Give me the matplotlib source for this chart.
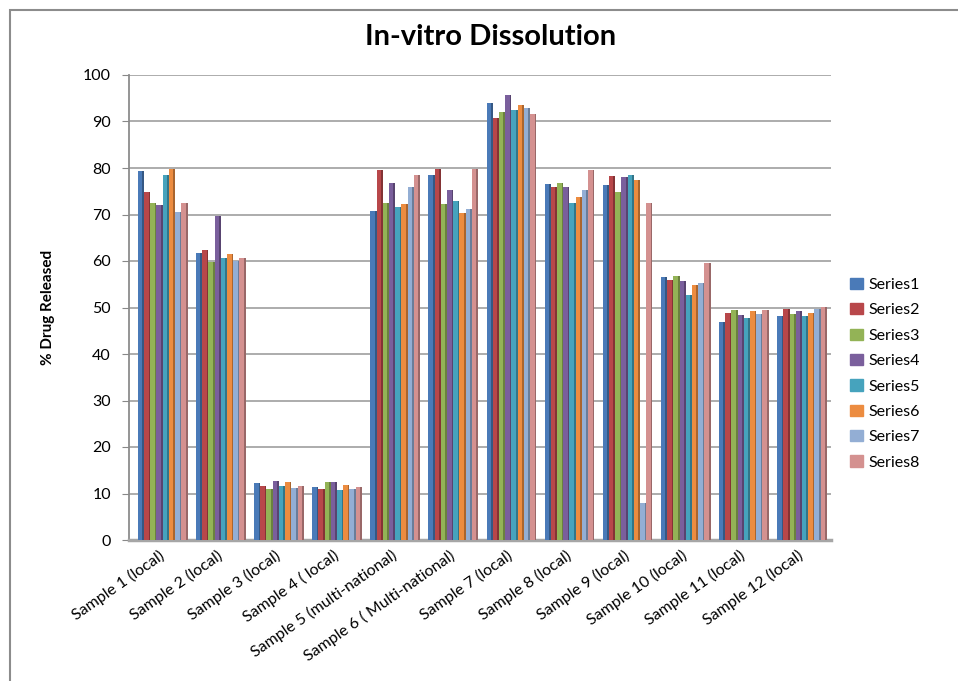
import numpy as np
import matplotlib
matplotlib.use('Agg')
import matplotlib.pyplot as plt
from matplotlib.patches import Rectangle
from matplotlib.colors import to_rgb

plt.rcParams['font.family'] = ['Lato', 'DejaVu Sans']

# dissolution results per sample (% drug released), one list per series
samples = ['Sample 1 (local)', 'Sample 2 (local)', 'Sample 3 (local)', 'Sample 4 ( local)',
           'Sample 5 (multi-national)', 'Sample 6 ( Multi-national)', 'Sample 7 (local)',
           'Sample 8 (local)', 'Sample 9 (local)', 'Sample 10 (local)', 'Sample 11 (local)',
           'Sample 12 (local)']
series1 = [79.4, 61.8, 12.2, 11.4, 70.8, 78.5, 94.0, 76.6, 76.3, 56.6, 46.8, 48.2]
series2 = [74.8, 62.3, 11.6, 10.9, 79.5, 79.8, 90.7, 76.0, 78.3, 56.0, 48.8, 49.7]
series3 = [72.4, 59.8, 10.9, 12.5, 72.4, 72.3, 92.0, 76.7, 74.8, 56.8, 49.5, 48.6]
series4 = [72.0, 69.6, 12.6, 12.4, 76.8, 75.3, 95.8, 75.9, 78.1, 55.8, 48.4, 49.3]
series5 = [78.6, 60.7, 11.6, 10.8, 71.6, 72.8, 92.5, 72.5, 78.6, 52.6, 47.7, 48.2]
series6 = [79.7, 61.6, 12.5, 11.9, 72.2, 70.3, 93.5, 73.8, 77.5, 54.8, 49.2, 48.8]
series7 = [70.6, 59.9, 11.1, 10.9, 75.9, 71.2, 92.8, 75.2, 8.0, 55.3, 48.5, 49.6]
series8 = [72.4, 60.6, 11.6, 11.3, 78.6, 79.8, 91.6, 79.5, 72.5, 59.6, 49.5, 50.2]
series_names = ['Series1', 'Series2', 'Series3', 'Series4', 'Series5', 'Series6', 'Series7', 'Series8']
colors = ['#4A7AB8', '#B8474A', '#93B356', '#7A5F9C', '#46A3BD', '#EC8C40', '#93AED4', '#D49190']

all_series = [series1, series2, series3, series4, series5, series6, series7, series8]

fig = plt.figure(figsize=(9.58, 6.81), dpi=100)
ax = fig.add_axes([129/958, 141/681, (831-129)/958, (540-75)/681])

x = np.arange(len(samples))
w = 0.107
for i, (vals, c, name) in enumerate(zip(all_series, colors, series_names)):
    pos = x + (i - 3.5) * w
    ax.bar(pos, vals, width=w, color=c, label=name, zorder=3)
    # darker side face for the pseudo-3D look
    dark = tuple(v * 0.72 for v in to_rgb(c))
    ax.bar(pos + w * 0.36, vals, width=w * 0.28, color=dark, zorder=3)

ax.set_xlim(-0.58, 11.5)
ax.set_ylim(0, 100)
ax.set_yticks(np.arange(0, 101, 10))
ax.yaxis.grid(True, color='#A6A6A6', lw=1.3, zorder=0)
ax.set_axisbelow(True)
ax.tick_params(axis='y', labelsize=11.5, length=5, color='#888888', pad=8)
ax.tick_params(axis='x', length=0, pad=4)
ax.set_xticks(x)
ax.set_xticklabels(samples, rotation=35, ha='right', va='center',
                   rotation_mode='anchor', fontsize=11.5)
for lab in ax.get_xticklabels():
    lab.set_y(-0.018)
for s in ['top', 'right']:
    ax.spines[s].set_visible(False)
ax.spines['left'].set_color('#8C8C8C')
ax.spines['left'].set_linewidth(1.3)
ax.spines['bottom'].set_color('#A6A6A6')
ax.spines['bottom'].set_linewidth(2.5)

ax.set_ylabel('% Drug Released', fontsize=11, fontweight='bold', labelpad=20)
fig.text(0.512, 0.945, 'In-vitro Dissolution', ha='center', va='center',
         fontsize=21, fontweight='bold')

handles = [Rectangle((0, 0), 1, 1, color=c) for c in colors]
fig.legend(handles, series_names, loc='upper left', bbox_to_anchor=(0.872, 0.613),
           frameon=False, fontsize=11.5, handlelength=0.8, handleheight=0.7,
           handletextpad=0.4, labelspacing=0.7)

# outer chart border
fig.add_artist(Rectangle((10/958, -0.1), 1.2, (681-10)/681 + 0.1,
                         transform=fig.transFigure, fill=False,
                         edgecolor='#8C8C8C', lw=1.5))

fig.savefig('out.png', dpi=100)
